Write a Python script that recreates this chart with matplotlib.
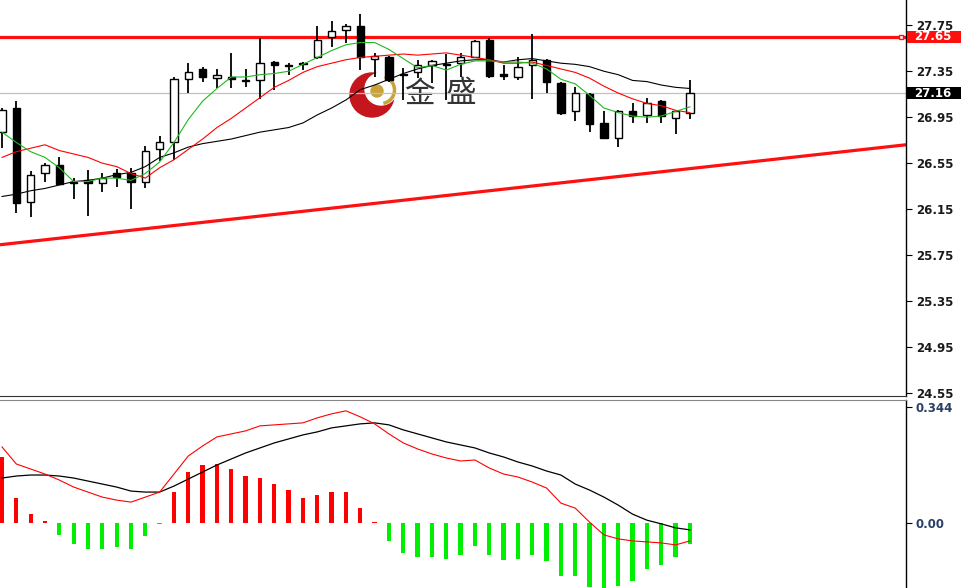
import matplotlib
matplotlib.use("Agg")
import matplotlib.pyplot as plt
from matplotlib.patches import Rectangle, Circle, Arc

# price bars, oldest first
opens = [26.82, 27.03, 26.21, 26.46, 26.53, 26.38, 26.40, 26.38, 26.46, 26.46,
         26.39, 26.67, 26.73, 27.28, 27.37, 27.29, 27.30, 27.275, 27.27, 27.43,
         27.405, 27.41, 27.47, 27.65, 27.71, 27.74, 27.46, 27.47, 27.33, 27.34,
         27.40, 27.41, 27.42, 27.47, 27.62, 27.33, 27.30, 27.40, 27.45, 27.25,
         27.00, 27.15, 26.90, 26.77, 27.00, 26.97, 27.09, 26.94, 26.99]
closes = [27.01, 26.20, 26.45, 26.53, 26.37, 26.39, 26.38, 26.42, 26.43, 26.39,
          26.66, 26.73, 27.28, 27.34, 27.30, 27.32, 27.28, 27.265, 27.42, 27.40,
          27.395, 27.42, 27.62, 27.70, 27.74, 27.47, 27.48, 27.27, 27.32, 27.40,
          27.44, 27.40, 27.47, 27.61, 27.31, 27.31, 27.39, 27.45, 27.26, 26.99,
          27.16, 26.89, 26.77, 27.00, 26.96, 27.07, 26.96, 27.00, 27.16]
highs = [27.03, 27.09, 26.48, 26.55, 26.60, 26.42, 26.49, 26.46, 26.50, 26.51,
         26.70, 26.79, 27.30, 27.42, 27.39, 27.37, 27.51, 27.37, 27.64, 27.44,
         27.42, 27.43, 27.74, 27.79, 27.76, 27.85, 27.51, 27.48, 27.38, 27.45,
         27.45, 27.50, 27.51, 27.62, 27.64, 27.40, 27.47, 27.67, 27.46, 27.26,
         27.21, 27.16, 27.00, 27.01, 27.07, 27.12, 27.10, 27.01, 27.27]
lows = [26.68, 26.12, 26.08, 26.39, 26.36, 26.24, 26.09, 26.30, 26.34, 26.15,
        26.33, 26.57, 26.58, 27.16, 27.26, 27.20, 27.20, 27.21, 27.11, 27.19,
        27.32, 27.36, 27.46, 27.56, 27.60, 27.36, 27.30, 27.26, 27.10, 27.29,
        27.25, 27.10, 27.30, 27.465, 27.29, 27.27, 27.27, 27.11, 27.16, 26.97,
        26.92, 26.82, 26.76, 26.69, 26.90, 26.90, 26.90, 26.80, 26.93]

# moving averages
ma_fast = [26.82, 26.73, 26.65, 26.60, 26.51, 26.39, 26.39, 26.42, 26.42, 26.40,
           26.46, 26.56, 26.73, 26.93, 27.09, 27.20, 27.30, 27.30, 27.32, 27.33,
           27.35, 27.41, 27.47, 27.53, 27.58, 27.60, 27.60, 27.54, 27.46, 27.38,
           27.40, 27.36, 27.41, 27.44, 27.44, 27.43, 27.43, 27.42, 27.37, 27.28,
           27.24, 27.14, 27.03, 26.99, 26.96, 26.95, 26.96, 27.00, 27.04]
ma_mid = [26.60, 26.65, 26.68, 26.71, 26.66, 26.63, 26.60, 26.55, 26.52, 26.46,
          26.42, 26.51, 26.58, 26.67, 26.76, 26.86, 26.94, 27.03, 27.12, 27.21,
          27.27, 27.34, 27.39, 27.42, 27.45, 27.47, 27.48, 27.49, 27.50, 27.49,
          27.50, 27.51, 27.49, 27.47, 27.45, 27.42, 27.42, 27.43, 27.40, 27.37,
          27.34, 27.29, 27.22, 27.16, 27.11, 27.07, 27.05, 27.01, 26.99]
ma_slow = [26.26, 26.28, 26.31, 26.33, 26.36, 26.39, 26.40, 26.42, 26.45, 26.47,
           26.52, 26.60, 26.64, 26.69, 26.72, 26.74, 26.76, 26.79, 26.82, 26.84,
           26.86, 26.90, 26.97, 27.03, 27.10, 27.19, 27.23, 27.28, 27.33, 27.37,
           27.40, 27.42, 27.44, 27.45, 27.45, 27.43, 27.45, 27.46, 27.44, 27.42,
           27.41, 27.39, 27.35, 27.32, 27.27, 27.26, 27.23, 27.21, 27.20]

# MACD window
macd_dif = [0.226, 0.175, 0.160, 0.145, 0.127, 0.106, 0.091, 0.076, 0.067, 0.061,
            0.076, 0.091, 0.145, 0.199, 0.229, 0.256, 0.265, 0.274, 0.289, 0.292,
            0.295, 0.298, 0.313, 0.325, 0.334, 0.316, 0.295, 0.265, 0.238, 0.220,
            0.205, 0.193, 0.184, 0.187, 0.163, 0.145, 0.136, 0.121, 0.103, 0.058,
            0.043, 0.001, -0.037, -0.049, -0.055, -0.058, -0.061, -0.067, -0.055]
macd_dea = [0.133, 0.139, 0.142, 0.142, 0.139, 0.133, 0.124, 0.115, 0.106, 0.094,
            0.091, 0.091, 0.109, 0.130, 0.151, 0.172, 0.190, 0.208, 0.223, 0.238,
            0.250, 0.262, 0.271, 0.283, 0.289, 0.295, 0.298, 0.292, 0.277, 0.265,
            0.253, 0.241, 0.232, 0.223, 0.208, 0.196, 0.181, 0.169, 0.154, 0.142,
            0.115, 0.097, 0.076, 0.052, 0.025, 0.007, -0.004, -0.016, -0.022]
macd_hist = [0.195, 0.074, 0.025, 0.003, -0.038, -0.065, -0.080, -0.080, -0.073, -0.080,
             -0.041, -0.004, 0.090, 0.150, 0.172, 0.176, 0.161, 0.138, 0.134, 0.116,
             0.098, 0.074, 0.081, 0.090, 0.090, 0.042, 0.002, -0.055, -0.091, -0.104,
             -0.104, -0.109, -0.097, -0.070, -0.097, -0.113, -0.109, -0.097, -0.116, -0.160,
             -0.160, -0.194, -0.200, -0.191, -0.176, -0.139, -0.126, -0.104, -0.065]

price_ticks = [24.55, 24.95, 25.35, 25.75, 26.15, 26.55, 26.95, 27.35, 27.75]
macd_ticks = [0.0, 0.344]
resistance = 27.65
bid = 27.16
# support line, value at left and right edge of the window
trend_left = 25.84
trend_right = 26.71

XLIM = (-0.14, 63.08)

fig = plt.figure(figsize=(9.61, 5.88), dpi=100)
fig.patch.set_facecolor("white")

# watermark logo sits behind the price chart
logo = fig.add_axes([0, 0, 1, 1], zorder=0)
logo.set_xlim(0, 961)
logo.set_ylim(588, 0)
logo.axis("off")
logo.add_patch(Circle((372, 95), 22, color="#c4161c"))
logo.add_patch(Circle((381, 89), 16, color="white"))
logo.add_patch(Arc((381, 90), 27, 27, theta1=-75, theta2=80, color="#c9a23a", lw=2.5))
logo.add_patch(Circle((377, 91), 6, color="#c9a23a"))
for ch, cx in [("金", 419), ("盛", 461)]:
    logo.text(cx, 94, ch, fontsize=22, color="#333333", ha="center", va="center",
              family=["Noto Sans CJK SC", "DejaVu Sans"])

ax = fig.add_axes([0, 192 / 588, 906 / 961, 396 / 588], zorder=2)
ax.patch.set_visible(False)
macd = fig.add_axes([0, 0, 906 / 961, 188 / 588], zorder=2)
macd.patch.set_visible(False)

# price chart
ax.axhline(resistance, color="#ff1010", lw=2.3, zorder=2)
ax.axhline(bid, color="#c0c0c0", lw=0.9, zorder=1)
ax.plot(XLIM, [trend_left, trend_right], color="#ff1010", lw=2.3, zorder=2)
ax.plot(62.7, resistance, marker="s", ms=3.5, mfc="white", mec="#ff1010", mew=1, zorder=3)

for i in range(len(opens)):
    o, h, l, c = opens[i], highs[i], lows[i], closes[i]
    ax.vlines(i, l, h, color="black", lw=1.3, zorder=3)
    bull = c >= o
    ax.add_patch(Rectangle((i - 0.26, min(o, c)), 0.52, max(abs(c - o), 0.004),
                           facecolor="white" if bull else "black", edgecolor="black",
                           lw=1.0, zorder=4))

xs = range(len(opens))
ax.plot(xs, ma_slow, color="black", lw=0.8, zorder=5)
ax.plot(xs, ma_mid, color="#ff0000", lw=0.8, zorder=5)
ax.plot(xs, ma_fast, color="#1fb81f", lw=0.8, zorder=5)

ax.set_xlim(*XLIM)
ax.set_ylim(24.5235, 27.97)

# MACD window
colors = ["#ff0000" if v >= 0 else "#00ee00" for v in macd_hist]
macd.bar(xs, macd_hist, width=0.3, color=colors, zorder=2)
macd.plot(xs, macd_dea, color="black", lw=0.9, zorder=3)
macd.plot(xs, macd_dif, color="#ff0000", lw=0.8, zorder=3)
macd.set_xlim(*XLIM)
macd.set_ylim(-0.1959, 0.3664)

for a in (ax, macd):
    a.spines["left"].set_visible(False)
    a.spines["top"].set_visible(False)
    a.spines["right"].set_linewidth(1.0)
    a.set_xticks([])
    a.yaxis.tick_right()
    a.tick_params(axis="y", direction="out", length=4, width=0.8, pad=3, labelsize=8.5)
ax.spines["bottom"].set_color("#333333")
macd.spines["bottom"].set_visible(False)
macd.spines["top"].set_visible(True)
macd.spines["top"].set_color("#888888")

ax.set_yticks(price_ticks)
ax.set_yticklabels(["%.2f" % v for v in price_ticks], fontweight="bold", color="#1a1a1a")
macd.set_yticks(macd_ticks)
macd.set_yticklabels(["0.00", "0.344"], fontweight="bold", color="#2a3f66")

# price tags on the scale
tag_h = 12 / 114.9
for val, bg in [(resistance, "#ff1010"), (bid, "black")]:
    ax.add_patch(Rectangle((1.001, val - tag_h / 2), 0.06, tag_h,
                           transform=ax.get_yaxis_transform(), facecolor=bg,
                           edgecolor="none", clip_on=False, zorder=6))
    ax.text(1.009, val, "%.2f" % val, transform=ax.get_yaxis_transform(),
            ha="left", va="center", fontsize=8.5, fontweight="bold", color="white", zorder=7)

fig.savefig("out.png", dpi=100)
